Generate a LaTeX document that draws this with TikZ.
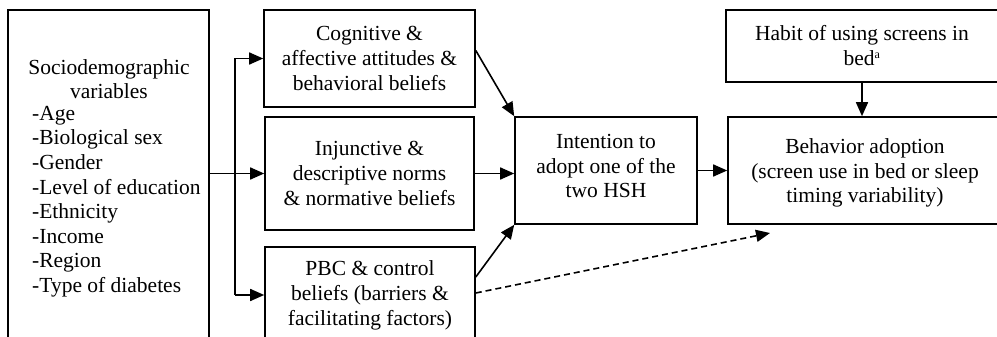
\documentclass[tikz,border=0pt]{standalone}
\usepackage{fontspec}
\setmainfont{Liberation Serif}
\usetikzlibrary{arrows.meta,calc}
\begin{document}
\begin{tikzpicture}[x=1pt,y=-1pt,
  box/.style={draw,line width=1.6pt,align=center,inner sep=0pt,
    font=\fontsize{21.5}{25}\selectfont},
  txt/.style={align=center,inner sep=0pt,font=\fontsize{21.5}{24.6}\selectfont},
  arr/.style={line width=1.6pt,-{Triangle[length=14pt,width=12pt]}},
  darr/.style={arr,dash pattern=on 6pt off 4pt}]
\useasboundingbox (0,0) rectangle (997,337);
\clip (0,0) rectangle (997,337);
\fill[white] (0,0) rectangle (997,337);
% boxes
\node[box,minimum width=201pt,minimum height=390pt] (socio) at (108.5,205) {};
\node[txt] (sochead) at (109,79) {Sociodemographic\\variables};
\node[txt,align=left,anchor=north west] (soclist) at (32,106) {-Age\\-Biological sex\\-Gender\\-Level of education\\-Ethnicity\\-Income\\-Region\\-Type of diabetes};
\node[box,minimum width=211pt,minimum height=97pt] (cog) at (369.5,58.5) {Cognitive \&\\affective attitudes \&\\behavioral beliefs};
\node[box,minimum width=209pt,minimum height=113pt] (inj) at (369.5,173.5) {Injunctive \&\\descriptive norms\\\& normative beliefs};
\node[box,minimum width=210pt,minimum height=96pt] (pbc) at (370,295) {PBC \& control\\beliefs (barriers \&\\facilitating factors)};
\node[box,minimum width=182pt,minimum height=107pt] (int) at (606,170.5) {};
\node[txt] (inttxt) at (606,166) {Intention to\\adopt one of the\\two HSH};
\node[box,minimum width=274pt,minimum height=107pt] (beh) at (865,170.5) {};
\node[txt] (behtxt) at (865,173) {Behavior adoption\\(screen use in bed or sleep\\timing variability)};
\node[box,minimum width=272pt,minimum height=72pt] (hab) at (862,46) {Habit of using screens in\\bed\textsuperscript{\fontsize{12}{12}\selectfont a}};
% connectors
\coordinate (bx) at (235,0);
\coordinate (dend) at (770,233);
\draw[line width=1.6pt] (bx |- cog.west) -- (bx |- pbc.west);
\draw[arr] (bx |- cog.west) -- (cog.west);
\draw[arr] (bx |- pbc.west) -- (pbc.west);
\draw[arr] (socio.east |- inj.west) -- (inj.west);
\draw[arr] ($(cog.east)+(0,-8)$) -- (int.north west);
\draw[arr] (inj.east) -- (int.west |- inj.east);
\draw[arr] ($(pbc.east)+(0,-18)$) -- (int.south west);
\draw[darr] ($(pbc.east)+(0,-2)$) -- (dend);
\draw[arr] (int.east) -- (beh.west);
\draw[arr] (hab.south) -- (hab.south |- beh.north);
\end{tikzpicture}
\end{document}
